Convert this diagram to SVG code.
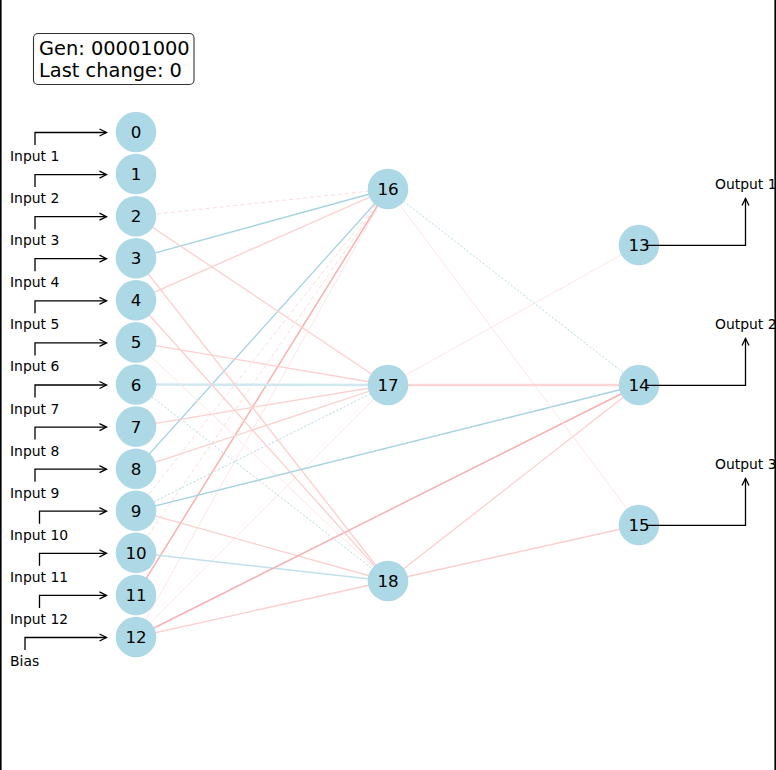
<svg xmlns="http://www.w3.org/2000/svg" width="776" height="770" viewBox="0 0 776 770">
<style>
text{font-family:"DejaVu Sans","Liberation Sans",sans-serif;fill:#000}
.nl{font-size:16.7px;text-anchor:middle}
.lb{font-size:13.9px}
.gen{font-size:19.4px}
.node circle{fill:#add8e6}
.e line{fill:none}
.ps{stroke:#f8b0b0;stroke-width:1.5}
.pm{stroke:#fccfcf;stroke-width:1.3}
.pw{stroke:#fcd6d6;stroke-width:2.6}
.pf{stroke:#fee5e5;stroke-width:1}
.pd{stroke:#fddcdc;stroke-width:1;stroke-dasharray:4 3}
.bs{stroke:#a6d3e2;stroke-width:1.3}
.bw{stroke:#d2e8f0;stroke-width:2.6}
.bl{stroke:#c2e0eb;stroke-width:1.6}
.bd{stroke:#b3d9e6;stroke-width:1;stroke-dasharray:2 2}
.arr{fill:none;stroke:#000;stroke-width:1.3}
</style>
<defs>
<marker id="ah" markerUnits="userSpaceOnUse" markerWidth="12" markerHeight="12" viewBox="-9 -6 12 12" refX="0" refY="0" orient="auto" overflow="visible">
<path d="M-7,-3.5 L0,0 L-7,3.5" fill="none" stroke="#000" stroke-width="1.3"/>
</marker>
</defs>
<rect x="0" y="0" width="776" height="770" fill="#fff"/>
<line x1="0.8" y1="0" x2="0.8" y2="770" stroke="#000" stroke-width="1.6"/>
<line x1="775.2" y1="0" x2="775.2" y2="770" stroke="#000" stroke-width="1.6"/>
<g id="connectors" class="e">
<line class="pd" x1="136" y1="216.2" x2="388" y2="189"/>
<line class="bs" x1="136" y1="258.2" x2="388" y2="189"/>
<line class="pm" x1="136" y1="300.3" x2="388" y2="189"/>
<line class="bs" x1="136" y1="468.7" x2="388" y2="189"/>
<line class="pd" x1="136" y1="510.7" x2="388" y2="189"/>
<line class="pd" x1="136" y1="552.8" x2="388" y2="189"/>
<line class="ps" x1="136" y1="594.9" x2="388" y2="189"/>
<line class="pf" x1="136" y1="637" x2="388" y2="189"/>
<line class="pm" x1="136" y1="216.2" x2="388" y2="385"/>
<line class="pm" x1="136" y1="342.4" x2="388" y2="385"/>
<line class="bw" x1="136" y1="384.5" x2="388" y2="385"/>
<line class="pm" x1="136" y1="426.6" x2="388" y2="385"/>
<line class="pm" x1="136" y1="468.7" x2="388" y2="385"/>
<line class="bd" x1="136" y1="510.7" x2="388" y2="385"/>
<line class="pf" x1="136" y1="637" x2="388" y2="385"/>
<line class="pm" x1="136" y1="258.2" x2="388" y2="581"/>
<line class="pm" x1="136" y1="300.3" x2="388" y2="581"/>
<line class="pf" x1="136" y1="342.4" x2="388" y2="581"/>
<line class="bd" x1="136" y1="384.5" x2="388" y2="581"/>
<line class="pm" x1="136" y1="510.7" x2="388" y2="581"/>
<line class="bl" x1="136" y1="552.8" x2="388" y2="581"/>
<line class="pm" x1="136" y1="637" x2="388" y2="581"/>
<line class="bs" x1="136" y1="510.7" x2="639" y2="385"/>
<line class="ps" x1="136" y1="637" x2="639" y2="385"/>
<line class="bd" x1="388" y1="189" x2="639" y2="385"/>
<line class="pf" x1="388" y1="189" x2="639" y2="525"/>
<line class="pf" x1="388" y1="385" x2="639" y2="245"/>
<line class="pw" x1="388" y1="385" x2="639" y2="385"/>
<line class="pm" x1="388" y1="581" x2="639" y2="385"/>
<line class="pm" x1="388" y1="581" x2="639" y2="525"/>
</g>
<g id="input-arrows">
<path class="arr" d="M35,145 V132.5 H106.5" marker-end="url(#ah)"/>
<path class="arr" d="M35,187.1 V174.6 H106.5" marker-end="url(#ah)"/>
<path class="arr" d="M35,229.2 V216.7 H106.5" marker-end="url(#ah)"/>
<path class="arr" d="M35,271.2 V258.7 H106.5" marker-end="url(#ah)"/>
<path class="arr" d="M35,313.3 V300.8 H106.5" marker-end="url(#ah)"/>
<path class="arr" d="M35,355.4 V342.9 H106.5" marker-end="url(#ah)"/>
<path class="arr" d="M35,397.5 V385 H106.5" marker-end="url(#ah)"/>
<path class="arr" d="M35,439.6 V427.1 H106.5" marker-end="url(#ah)"/>
<path class="arr" d="M35,481.7 V469.2 H106.5" marker-end="url(#ah)"/>
<path class="arr" d="M39.5,523.7 V511.2 H106.5" marker-end="url(#ah)"/>
<path class="arr" d="M39.5,565.8 V553.3 H106.5" marker-end="url(#ah)"/>
<path class="arr" d="M39.5,607.9 V595.4 H106.5" marker-end="url(#ah)"/>
<path class="arr" d="M25,650 V637.5 H106.5" marker-end="url(#ah)"/>
<text class="lb" x="10" y="161">Input 1</text>
<text class="lb" x="10" y="203.1">Input 2</text>
<text class="lb" x="10" y="245.2">Input 3</text>
<text class="lb" x="10" y="287.2">Input 4</text>
<text class="lb" x="10" y="329.3">Input 5</text>
<text class="lb" x="10" y="371.4">Input 6</text>
<text class="lb" x="10" y="413.5">Input 7</text>
<text class="lb" x="10" y="455.6">Input 8</text>
<text class="lb" x="10" y="497.7">Input 9</text>
<text class="lb" x="10" y="539.7">Input 10</text>
<text class="lb" x="10" y="581.8">Input 11</text>
<text class="lb" x="10" y="623.9">Input 12</text>
<text class="lb" x="10" y="666">Bias</text>
</g>
<g id="n0" class="node"><circle cx="136" cy="132" r="20.3"/><text class="nl" x="136" y="138">0</text></g>
<g id="n1" class="node"><circle cx="136" cy="174.1" r="20.3"/><text class="nl" x="136" y="180.1">1</text></g>
<g id="n2" class="node"><circle cx="136" cy="216.2" r="20.3"/><text class="nl" x="136" y="222.2">2</text></g>
<g id="n3" class="node"><circle cx="136" cy="258.2" r="20.3"/><text class="nl" x="136" y="264.2">3</text></g>
<g id="n4" class="node"><circle cx="136" cy="300.3" r="20.3"/><text class="nl" x="136" y="306.3">4</text></g>
<g id="n5" class="node"><circle cx="136" cy="342.4" r="20.3"/><text class="nl" x="136" y="348.4">5</text></g>
<g id="n6" class="node"><circle cx="136" cy="384.5" r="20.3"/><text class="nl" x="136" y="390.5">6</text></g>
<g id="n7" class="node"><circle cx="136" cy="426.6" r="20.3"/><text class="nl" x="136" y="432.6">7</text></g>
<g id="n8" class="node"><circle cx="136" cy="468.7" r="20.3"/><text class="nl" x="136" y="474.7">8</text></g>
<g id="n9" class="node"><circle cx="136" cy="510.7" r="20.3"/><text class="nl" x="136" y="516.7">9</text></g>
<g id="n10" class="node"><circle cx="136" cy="552.8" r="20.3"/><text class="nl" x="136" y="558.8">10</text></g>
<g id="n11" class="node"><circle cx="136" cy="594.9" r="20.3"/><text class="nl" x="136" y="600.9">11</text></g>
<g id="n12" class="node"><circle cx="136" cy="637" r="20.3"/><text class="nl" x="136" y="643">12</text></g>
<g id="n16" class="node"><circle cx="388" cy="189" r="20.3"/><text class="nl" x="388" y="195">16</text></g>
<g id="n17" class="node"><circle cx="388" cy="385" r="20.3"/><text class="nl" x="388" y="391">17</text></g>
<g id="n18" class="node"><circle cx="388" cy="581" r="20.3"/><text class="nl" x="388" y="587">18</text></g>
<g id="n13" class="node"><circle cx="639" cy="245" r="20.3"/><text class="nl" x="639" y="251">13</text></g>
<g id="n14" class="node"><circle cx="639" cy="385" r="20.3"/><text class="nl" x="639" y="391">14</text></g>
<g id="n15" class="node"><circle cx="639" cy="525" r="20.3"/><text class="nl" x="639" y="531">15</text></g>
<g id="output-arrows">
<path class="arr" d="M646.5,245.3 H745.5 V198.5" marker-end="url(#ah)"/>
<path class="arr" d="M646.5,385.3 H745.5 V338.5" marker-end="url(#ah)"/>
<path class="arr" d="M646.5,525.3 H745.5 V478.5" marker-end="url(#ah)"/>
<text class="lb" x="715" y="189.3">Output 1</text>
<text class="lb" x="715" y="329.3">Output 2</text>
<text class="lb" x="715" y="469.3">Output 3</text>
</g>
<g id="gen-box">
<rect x="33.5" y="33.5" width="160.5" height="51" rx="4.5" fill="#fff" stroke="#333" stroke-width="1.1"/>
<text class="gen" x="39" y="54.5">Gen: 00001000</text>
<text class="gen" x="39" y="77">Last change: 0</text>
</g>
</svg>
